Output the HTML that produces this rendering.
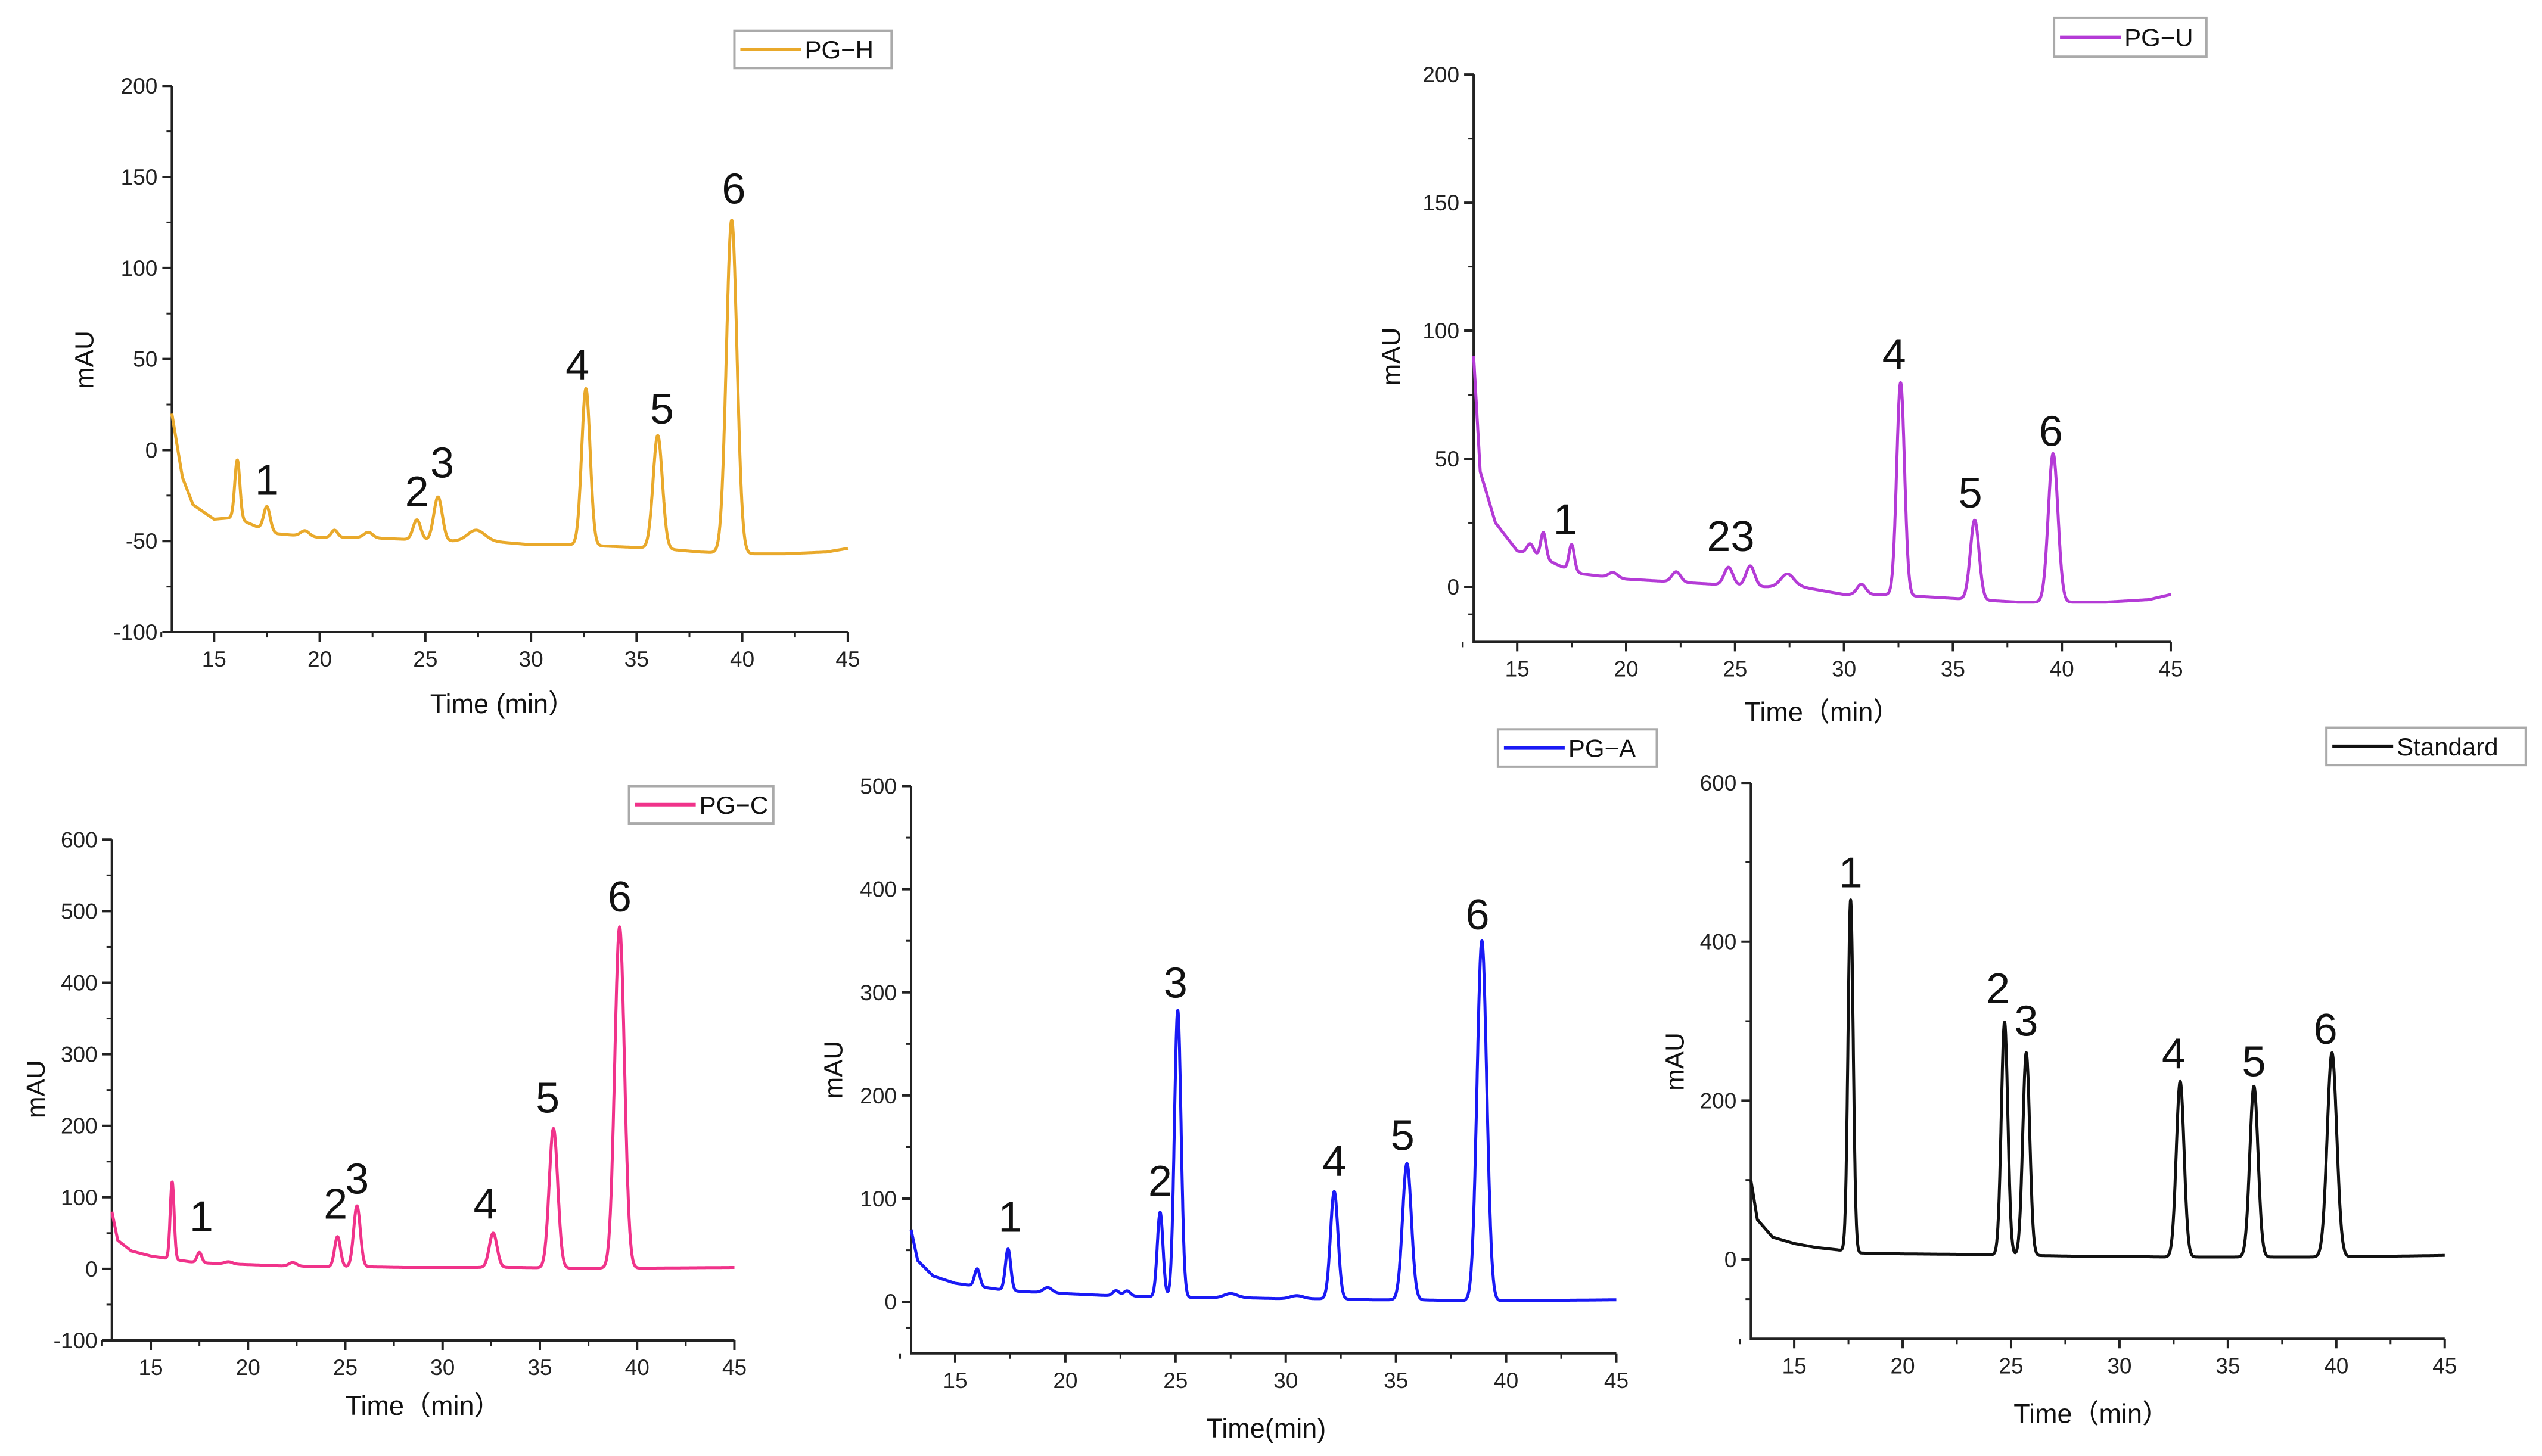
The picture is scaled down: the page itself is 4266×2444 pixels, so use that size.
<!DOCTYPE html>
<html><head><meta charset="utf-8"><style>
html,body{margin:0;padding:0;background:#fff;}
svg{display:block;font-family:"Liberation Sans",Arial,sans-serif;}
</style></head><body>
<svg id="fig" width="4266" height="2444" viewBox="0 0 4266 2444" xmlns="http://www.w3.org/2000/svg"></svg>
<script>
// ---------- PG-H data ----------
const hBaseT=[13,13.5,14,15,16,17,18,20,22,24,26,28,30,32,34,36,38,40,42,44,45];
const hBaseV=[20,-15,-30,-38,-37,-42,-46,-48,-48,-49,-50,-50,-52,-52,-53,-54,-56,-57,-57,-56,-54];
const hPeakT=[16.1,17.5,19.3,20.7,22.3,24.6,25.6,27.4,32.6,36.0,39.5];
const hPeakH=[32,13,3,4,3,11,24,6,86,62,183];
const hPeakW=[0.12,0.15,0.2,0.15,0.2,0.18,0.2,0.4,0.2,0.22,0.25];
const hLabT=[17.5,24.6,25.8,32.2,36.2,39.6];
const hLabV=[-16,-22.5,-6.5,47,23,144];
const hLabTxt=["1","2","3","4","5","6"];
const hYTicks=[-100,-50,0,50,100,150,200];
// ---------- PG-U data ----------
const uBaseT=[13,13.3,14,15,16,17,18,19,20,22,24,26,28,30,32,34,36,38,40,42,44,45];
const uBaseV=[90,45,25,14,12,8,5,4,3,2,1,0,0,-3,-3,-4,-5,-6,-6,-6,-5,-3];
const uPeakT=[15.6,16.2,17.5,19.4,22.3,24.7,25.7,27.4,30.8,32.6,36,39.6];
const uPeakH=[4,10,10,2,4,7,8,5,4,83,31,58];
const uPeakW=[0.15,0.12,0.12,0.2,0.2,0.2,0.2,0.3,0.2,0.18,0.2,0.22];
const uLabT=[17.2,24.8,32.3,35.8,39.5];
const uLabV=[26.6,20,91,37,61];
const uLabTxt=["1","23","4","5","6"];
const uYTicks=[0,50,100,150,200];
// ---------- PG-C data ----------
const cBaseT=[13,13.3,14,15,16,17,18,20,22,24,26,28,30,32,34,36,38,40,45];
const cBaseV=[80,40,25,18,14,10,8,6,4,3,3,2,2,2,2,1,1,1,2];
const cPeakT=[16.1,17.5,19,22.3,24.6,25.6,32.6,35.7,39.1];
const cPeakH=[108,14,3,5,42,85,48,195,477];
const cPeakW=[0.1,0.12,0.2,0.2,0.15,0.17,0.2,0.22,0.25];
const cLabT=[17.6,24.5,25.6,32.2,35.4,39.1];
const cLabV=[74.5,92,127,92,240,521];
const cLabTxt=["1","2","3","4","5","6"];
const cYTicks=[-100,0,100,200,300,400,500,600];
// ---------- PG-A data ----------
const aBaseT=[13,13.3,14,15,16,17,18,20,22,24,26,28,30,32,34,36,38,40,45];
const aBaseV=[70,40,25,18,15,12,10,8,6,5,4,4,3,3,2,2,1,1,2];
const aPeakT=[16,17.4,19.2,22.3,22.8,24.3,25.1,27.5,30.5,32.2,35.5,38.9];
const aPeakH=[17,40,5,5,5,82,278,4,3,104,132,349];
const aPeakW=[0.12,0.12,0.2,0.15,0.15,0.13,0.15,0.3,0.3,0.17,0.2,0.22];
const aLabT=[17.5,24.3,25,32.2,35.3,38.7];
const aLabV=[83,118,310,137,162,376];
const aLabTxt=["1","2","3","4","5","6"];
const aYTicks=[0,100,200,300,400,500];
// ---------- Standard data ----------
const sBaseT=[13,13.3,14,15,16,17,18,20,24,26,28,30,32,34,36,38,40,45];
const sBaseV=[100,50,28,20,15,12,8,7,6,5,4,4,3,3,3,3,3,5];
const sPeakT=[17.6,24.7,25.7,32.8,36.2,39.8];
const sPeakH=[443,293,255,221,215,257];
const sPeakW=[0.12,0.15,0.16,0.18,0.19,0.22];
const sLabT=[17.6,24.4,25.7,32.5,36.2,39.5];
const sLabV=[488,342,301,260,250,291];
const sLabTxt=["1","2","3","4","5","6"];
const sYTicks=[0,200,400,600];
const xTicks=[15,20,25,30,35,40,45];

const NS="http://www.w3.org/2000/svg";
const svg=document.getElementById('fig');
const K=4266/1568;
function mk(tag,attrs,parent){const e=document.createElementNS(NS,tag);for(const k in attrs)e.setAttribute(k,attrs[k]);(parent||svg).appendChild(e);return e;}
function interp(T,V,t){if(t<=T[0])return V[0];for(let i=1;i<T.length;i++){if(t<=T[i]){const f=(t-T[i-1])/(T[i]-T[i-1]);return V[i-1]+f*(V[i]-V[i-1]);}}return V[V.length-1];}

function panel(cfg){
  const g=mk('g',{});
  
  
  const x0=cfg.x0*K,x1=cfg.x1*K,yTop=cfg.yTop*K,yBot=cfg.yBot*K;
  const X=t=>x0+(t-13)/(45-13)*(x1-x0);
  const Y=v=>yBot-(v-cfg.vmin)/(cfg.vmax-cfg.vmin)*(yBot-yTop);
  const ax=mk('path',{d:`M${x0} ${yTop} L${x0} ${yBot} L${x1} ${yBot}`,fill:'none',stroke:'#222','stroke-width':4},g);
  
  for(let i=0;i<cfg.yTicks.length;i++){
    const v=cfg.yTicks[i],y=Y(v);
    mk('line',{x1:x0-16,y1:y,x2:x0,y2:y,stroke:'#222','stroke-width':4},g);
    const tx=mk('text',{x:x0-24,y:y+13,'font-size':37,'text-anchor':'end',fill:'#222'},g);
    tx.textContent=String(v);
    
    if(i<cfg.yTicks.length-1){const ym=Y((v+cfg.yTicks[i+1])/2);mk('line',{x1:x0-9,y1:ym,x2:x0,y2:ym,stroke:'#222','stroke-width':3},g);}
  }
  if(cfg.vmin<cfg.yTicks[0]){const ym=Y((cfg.vmin+cfg.yTicks[0])/2);if(ym<yBot-5)mk('line',{x1:x0-9,y1:ym,x2:x0,y2:ym,stroke:'#222','stroke-width':3},g);}
  for(let i=0;i<xTicks.length;i++){
    const t=xTicks[i],x=X(t);
    mk('line',{x1:x,y1:yBot,x2:x,y2:yBot+16,stroke:'#222','stroke-width':4},g);
    const tx=mk('text',{x:x,y:yBot+58,'font-size':37,'text-anchor':'middle',fill:'#222'},g);
    tx.textContent=String(t);
    
    const xm=X(t-2.5);mk('line',{x1:xm,y1:yBot,x2:xm,y2:yBot+9,stroke:'#222','stroke-width':3},g);
  }
  const yt=mk('text',{x:0,y:0,'font-size':44,'text-anchor':'middle',fill:'#111',transform:`translate(${cfg.yLabX*K+15},${cfg.yLabY*K}) rotate(-90)`},g);
  yt.textContent='mAU';
  const xt=mk('text',{x:cfg.xLabX*K,y:cfg.xLabY*K+16,'font-size':45,'text-anchor':'middle',fill:'#111'},g);
  xt.textContent=cfg.xTitle;
  let d='';
  for(let t=13;t<=45.0001;t+=0.01){
    let v=interp(cfg.bT,cfg.bV,t);
    for(let j=0;j<cfg.pT.length;j++){const z=(t-cfg.pT[j])/cfg.pW[j];v+=cfg.pH[j]*Math.exp(-0.5*z*z);}
    d+=(d?'L':'M')+X(t).toFixed(1)+' '+Y(v).toFixed(1);
  }
  const tr=mk('path',{d:d,fill:'none',stroke:cfg.color,'stroke-width':5,'stroke-linejoin':'round'},g);
  
  for(let j=0;j<cfg.lT.length;j++){
    const l=mk('text',{x:X(cfg.lT[j]),y:Y(cfg.lV[j])+26,'font-size':72,'text-anchor':'middle',fill:'#111'},g);
    l.textContent=cfg.lTxt[j];
    
  }
  const lg=mk('g',{},g);
  
  const lx=cfg.leg[0]*K,ly=cfg.leg[1]*K,lw=(cfg.leg[2]-cfg.leg[0])*K,lh=(cfg.leg[3]-cfg.leg[1])*K;
  mk('rect',{x:lx,y:ly,width:lw,height:lh,fill:'#fff',stroke:'#aaa','stroke-width':4},lg);
  mk('line',{x1:lx+10,y1:ly+lh/2,x2:lx+112,y2:ly+lh/2,stroke:cfg.color,'stroke-width':6},lg);
  const lt=mk('text',{x:lx+118,y:ly+lh/2+15,'font-size':42,fill:'#111'},lg);
  lt.textContent=cfg.title;
}

panel({name:'panel-pg-h',title:'PG\u2212H',color:'#E9A92B',x0:106,x1:523,yTop:53,yBot:390,vmin:-100,vmax:200,yTicks:hYTicks,
  bT:hBaseT,bV:hBaseV,pT:hPeakT,pH:hPeakH,pW:hPeakW,lT:hLabT,lV:hLabV,lTxt:hLabTxt,
  yLabX:52,yLabY:222,xLabX:310,xLabY:434,xTitle:'Time (min\uFF09',leg:[453,19,550,42]});
panel({name:'panel-pg-u',title:'PG\u2212U',color:'#B43BD6',x0:909,x1:1339,yTop:46,yBot:396,vmin:-21.5,vmax:200,yTicks:uYTicks,
  bT:uBaseT,bV:uBaseV,pT:uPeakT,pH:uPeakH,pW:uPeakW,lT:uLabT,lV:uLabV,lTxt:uLabTxt,
  yLabX:858,yLabY:220,xLabX:1124,xLabY:439,xTitle:'Time\uFF08min\uFF09',leg:[1267,11,1361,35]});
panel({name:'panel-pg-c',title:'PG\u2212C',color:'#F0338A',x0:69,x1:453,yTop:518,yBot:827,vmin:-100,vmax:600,yTicks:cYTicks,
  bT:cBaseT,bV:cBaseV,pT:cPeakT,pH:cPeakH,pW:cPeakW,lT:cLabT,lV:cLabV,lTxt:cLabTxt,
  yLabX:22,yLabY:672,xLabX:261,xLabY:867,xTitle:'Time\uFF08min\uFF09',leg:[388,485,477,508]});
panel({name:'panel-pg-a',title:'PG\u2212A',color:'#1A1AF5',x0:562,x1:997,yTop:485,yBot:835,vmin:-50,vmax:500,yTicks:aYTicks,
  bT:aBaseT,bV:aBaseV,pT:aPeakT,pH:aPeakH,pW:aPeakW,lT:aLabT,lV:aLabV,lTxt:aLabTxt,
  yLabX:514,yLabY:660,xLabX:781,xLabY:881,xTitle:'Time(min)',leg:[924,450,1022,473]});
panel({name:'panel-standard',title:'Standard',color:'#111111',x0:1080,x1:1508,yTop:483,yBot:826,vmin:-100,vmax:600,yTicks:sYTicks,
  bT:sBaseT,bV:sBaseV,pT:sPeakT,pH:sPeakH,pW:sPeakW,lT:sLabT,lV:sLabV,lTxt:sLabTxt,
  yLabX:1033,yLabY:655,xLabX:1290,xLabY:872,xTitle:'Time\uFF08min\uFF09',leg:[1435,449,1558,472]});
</script>
</body></html>
